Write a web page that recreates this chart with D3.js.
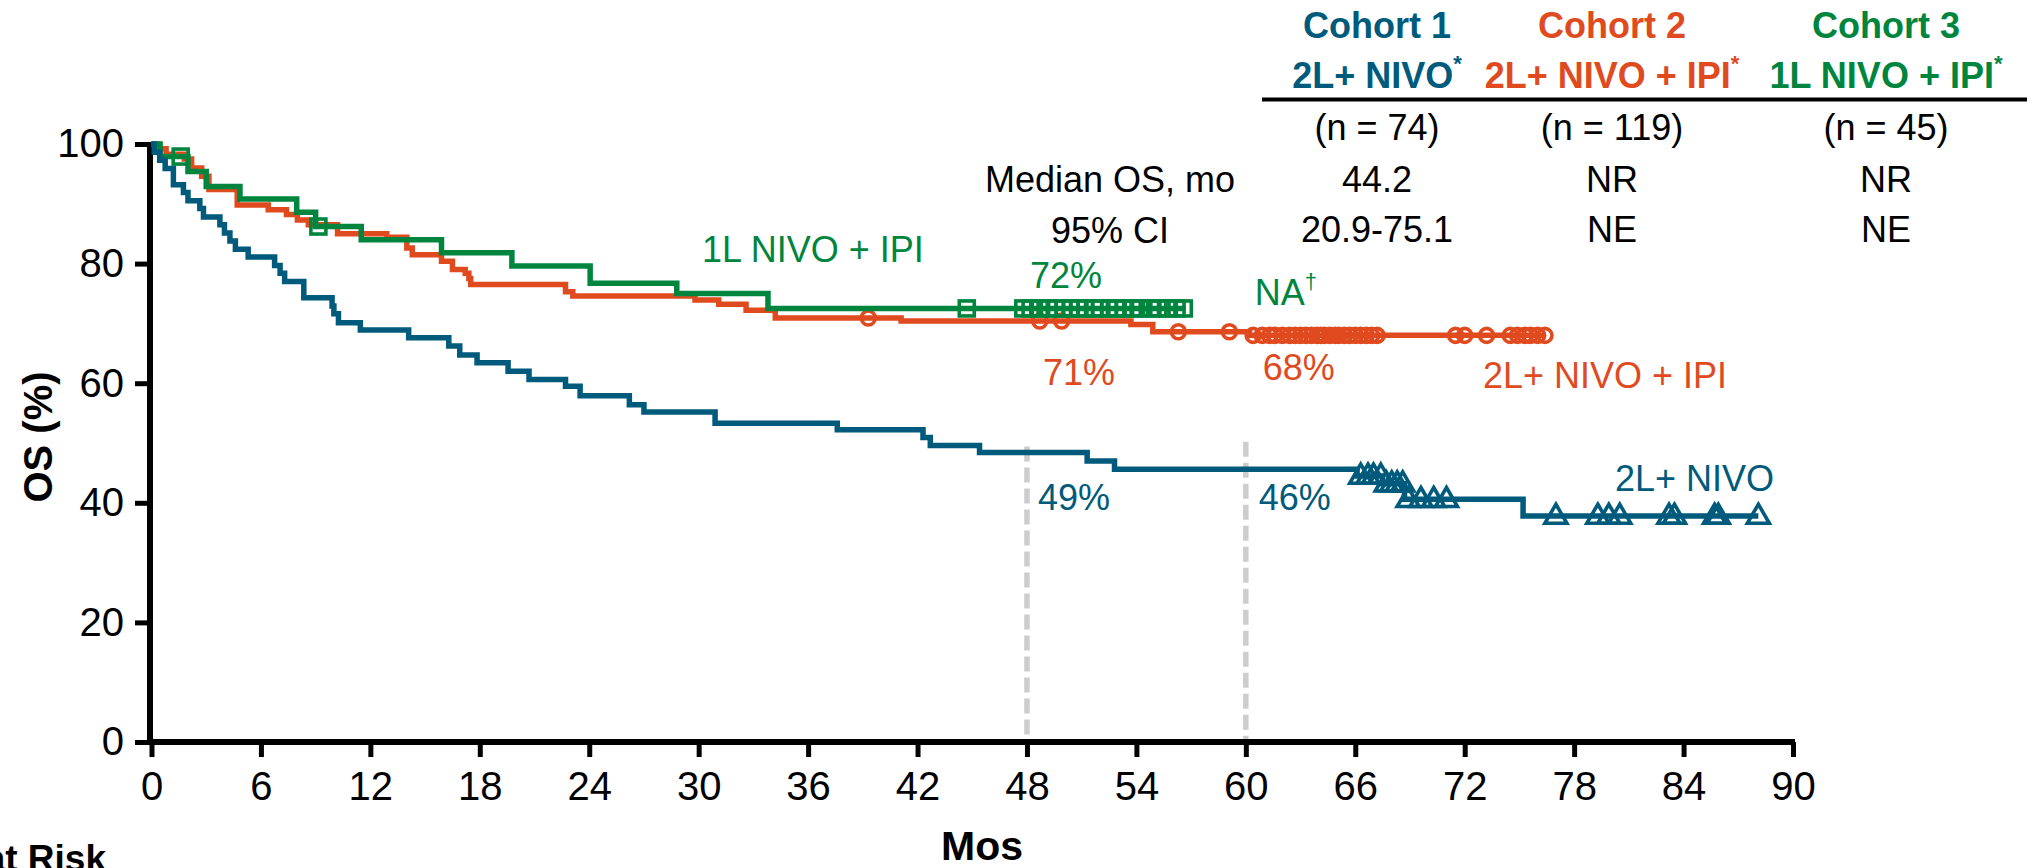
<!DOCTYPE html>
<html>
<head>
<meta charset="utf-8">
<style>
  :root{
    --nivo: #005a7c;
    --combo: #e04a1f;
    --first: #00853e;
  }
  html, body { margin: 0; padding: 0; background: #fff; }
  svg { display: block; font-family: "Liberation Sans", Arial, sans-serif; }
  .axis path, .axis line { stroke: #000; }
  .axis text { fill: #000; font-size: 40px; font-family: "Liberation Sans", Arial, sans-serif; }
</style>
</head>
<body>
<div id="chart"></div>

<script src="https://cdn.jsdelivr.net/npm/d3@7.8.5/dist/d3.min.js"></script>
<script>
// OS Kaplan-Meier curves, three cohorts

const width = 2034;
const height = 868;

// Cohort 1: 2L+ NIVO  (step times in months, OS % after the step)
const nivoTimes = [0, 0.15, 0.45, 0.75, 1.2, 1.75, 2.0, 2.65, 2.85, 3.75, 4.0, 4.3, 4.6, 5.3, 6.75, 7.05, 7.3, 8.35, 9.9, 10.0, 10.25, 11.45, 14.1, 16.3, 16.9, 17.85, 19.55, 20.7, 22.7, 23.5, 26.2, 27.0, 30.9, 37.6, 42.3, 42.7, 45.4, 51.3, 52.8, 66.1, 67.5, 68.7, 75.2];
const nivoOS    = [100, 98.6, 97.3, 95.9, 93.2, 91.9, 90.5, 89.2, 87.8, 86.5, 85.1, 83.8, 82.4, 81.1, 79.7, 78.4, 77.0, 74.3, 72.9, 71.6, 70.1, 68.9, 67.6, 66.2, 64.7, 63.4, 62.0, 60.6, 59.5, 57.9, 56.4, 55.2, 53.3, 52.2, 50.9, 49.6, 48.4, 47.0, 45.6, 44.5, 43.2, 40.6, 37.8];
const nivoEnd = 88.1;
const nivoCensored = [66.3, 66.7, 67.0, 67.4, 67.7, 68.0, 68.3, 68.6, 68.9, 69.6, 70.3, 71.0, 77.0, 79.3, 79.9, 80.5, 83.2, 83.5, 85.7, 85.9, 88.1];

// Cohort 2: 2L+ NIVO + IPI
const comboTimes = [0, 0.3, 0.8, 1.8, 2.2, 2.75, 3.15, 4.7, 6.4, 7.4, 8.0, 8.6, 10.2, 12.9, 14.0, 14.3, 15.9, 16.5, 17.2, 17.4, 17.5, 22.7, 23.1, 29.8, 31.1, 32.6, 34.2, 41.1, 53.7, 54.9, 60.2];
const comboOS    = [100, 99.2, 98.3, 97.5, 96.0, 94.6, 92.4, 89.8, 89.0, 88.2, 87.3, 86.5, 85.0, 84.4, 82.6, 81.5, 80.4, 79.0, 78.4, 77.5, 76.5, 75.3, 74.6, 73.9, 73.2, 72.2, 70.9, 70.4, 69.8, 68.6, 68.0];
const comboEnd = 76.4;
const comboCensored = [39.3, 48.7, 49.9, 56.3, 59.1, 60.4, 60.9, 61.3, 61.6, 62.0, 62.4, 62.7, 63.0, 63.3, 63.6, 63.9, 64.1, 64.3, 64.6, 64.9, 65.1, 65.4, 65.7, 66.0, 66.3, 66.6, 66.9, 67.2, 71.5, 72.0, 73.2, 74.5, 74.9, 75.3, 75.6, 76.0, 76.4];

// Cohort 3: 1L NIVO + IPI
const firstTimes = [0, 0.47, 2.0, 3.0, 4.85, 7.96, 9.0, 11.5, 15.9, 19.76, 24.05, 28.8, 33.8];
const firstOS    = [100, 97.9, 95.4, 92.9, 90.8, 88.6, 86.2, 84.0, 81.8, 79.6, 76.7, 75.0, 72.5];
const firstEnd = 56.7;
const firstCensored = [1.6, 9.15, 44.7, 47.8, 48.2, 48.7, 49.2, 49.6, 50.0, 50.4, 50.8, 51.2, 51.7, 52.0, 52.5, 52.9, 53.3, 53.8, 54.2, 54.8, 55.2, 55.7, 56.2, 56.6];

// landmark lines (months) and where they start (OS %)
const landmarks = [48, 60];
const landmarkTops = [49.4, 50.2];

const xTicks = [0, 6, 12, 18, 24, 30, 36, 42, 48, 54, 60, 66, 72, 78, 84, 90];
const yTicks = [0, 20, 40, 60, 80, 100];

// table at the top right
const cohortNames = ["Cohort 1", "Cohort 2", "Cohort 3"];
const cohortArms = ["2L+ NIVO", "2L+ NIVO + IPI", "1L NIVO + IPI"];
const cohortN = ["(n = 74)", "(n = 119)", "(n = 45)"];
const medianOS = ["44.2", "NR", "NR"];
const medianCI = ["20.9-75.1", "NE", "NE"];
const rowLabels = ["Median OS, mo", "95% CI"];

const colours = ["var(--nivo)", "var(--combo)", "var(--first)"];

(function main(){
    const svg = d3.select("#chart")
        .append("svg")
        .attr("width", width)
        .attr("height", height);

    const xScale = d3.scaleLinear()
        .domain([0, 90])
        .range([151.5, 1793]);

    const yScale = d3.scaleLinear()
        .domain([0, 100])
        .range([742, 144]);

    // landmark dashes
    svg.selectAll(".landmark")
        .data(landmarks)
        .join("line")
        .attr("x1", d => xScale(d))
        .attr("x2", d => xScale(d))
        .attr("y1", (d, i) => yScale(landmarkTops[i]))
        .attr("y2", yScale(0))
        .attr("stroke", "#cdcdcd")
        .attr("stroke-width", 5.5)
        .attr("stroke-dasharray", "15,6");

    // axes
    const yAxis = d3.axisLeft(yScale)
        .tickValues(yTicks)
        .tickSize(15)
        .tickPadding(11)
        .tickSizeOuter(0);

    const xAxis = d3.axisBottom(xScale)
        .tickValues(xTicks)
        .tickSize(15)
        .tickPadding(15)
        .tickSizeOuter(0);

    const gx = svg.append("g")
        .attr("class", "axis")
        .attr("transform", `translate(0, ${yScale(0)})`)
        .call(xAxis);
    gx.select(".domain").attr("stroke-width", 6).attr("d", `M${xScale(0) - 3},0H${xScale(90) + 2}`);
    gx.selectAll(".tick line").attr("stroke-width", 5);

    const gy = svg.append("g")
        .attr("class", "axis")
        .attr("transform", `translate(${xScale(0) - 1.5}, 0)`)
        .call(yAxis);
    gy.select(".domain").attr("stroke-width", 6).attr("d", `M0,${yScale(0)}V${yScale(100) - 2}`);
    gy.selectAll(".tick line").attr("stroke-width", 5);

    // KM curves
    const line = d3.line()
        .x(d => xScale(d[0]))
        .y(d => yScale(d[1]))
        .curve(d3.curveStepAfter);

    const levelAt = (times, os, t) => os[Math.max(0, d3.bisectRight(times, t) - 1)];

    const cohorts = [
        {times: nivoTimes, os: nivoOS, end: nivoEnd, cens: nivoCensored, colour: colours[0], mark: "tri"},
        {times: comboTimes, os: comboOS, end: comboEnd, cens: comboCensored, colour: colours[1], mark: "circle"},
        {times: firstTimes, os: firstOS, end: firstEnd, cens: firstCensored, colour: colours[2], mark: "square"}
    ];

    // draw orange, green, then blue on top
    [1, 2, 0].forEach(k => {
        const c = cohorts[k];
        const pts = d3.zip(c.times, c.os);
        pts.push([c.end, c.os[c.os.length - 1]]);

        svg.append("path")
            .datum(pts)
            .attr("fill", "none")
            .attr("stroke", c.colour)
            .attr("stroke-width", 5.5)
            .attr("d", line);

        const g = svg.append("g")
            .attr("fill", "none")
            .attr("stroke", c.colour)
            .attr("stroke-width", 3.6);

        const marks = c.cens.map(t => [t, levelAt(c.times, c.os, t)]);

        if (c.mark === "circle") {
            g.selectAll("circle").data(marks).join("circle")
                .attr("cx", d => xScale(d[0]))
                .attr("cy", d => yScale(d[1]))
                .attr("r", 7);
        } else if (c.mark === "square") {
            g.selectAll("rect").data(marks).join("rect")
                .attr("x", d => xScale(d[0]) - 7.5)
                .attr("y", d => yScale(d[1]) - 7.5)
                .attr("width", 15)
                .attr("height", 15);
        } else {
            const tri = d3.symbol(d3.symbolTriangle, 210);
            g.selectAll("path").data(marks).join("path")
                .attr("transform", d => `translate(${xScale(d[0])}, ${yScale(d[1]) + 1})`)
                .attr("d", tri);
        }
    });

    // curve annotations
    const note = (txt, x, y, colour) => svg.append("text")
        .attr("x", x).attr("y", y)
        .attr("fill", colour)
        .attr("font-size", 36)
        .text(txt);

    note("1L NIVO + IPI", 702, 262, colours[2]);
    note("72%", xScale(48) + 3, 288, colours[2]);
    note("NA", xScale(60) + 9, 305, colours[2])
        .append("tspan").attr("font-size", 22).attr("dy", -16).text("†");
    note("71%", xScale(48) + 16, 385, colours[1]);
    note("68%", xScale(60) + 17, 380, colours[1]);
    note("2L+ NIVO + IPI", 1483, 388, colours[1]);
    note("49%", xScale(48) + 11, 510, colours[0]);
    note("46%", xScale(60) + 13, 510, colours[0]);
    note("2L+ NIVO", 1615, 491, colours[0]);

    // table
    const colX = [1377, 1612, 1886];
    const table = svg.append("g").attr("text-anchor", "middle").attr("font-size", 36);

    table.selectAll(".head1").data(cohortNames).join("text")
        .attr("x", (d, i) => colX[i]).attr("y", 38)
        .attr("font-weight", "bold")
        .attr("fill", (d, i) => colours[i])
        .text(d => d);

    const head2 = table.selectAll(".head2").data(cohortArms).join("text")
        .attr("x", (d, i) => colX[i]).attr("y", 88)
        .attr("font-weight", "bold")
        .attr("fill", (d, i) => colours[i])
        .text(d => d);
    head2.append("tspan").attr("font-size", 22).attr("dy", -17).text("*");

    table.append("line")
        .attr("x1", 1262).attr("x2", 2027)
        .attr("y1", 99.5).attr("y2", 99.5)
        .attr("stroke", "#000").attr("stroke-width", 4);

    [cohortN, medianOS, medianCI].forEach((row, r) => {
        table.selectAll(".row" + r).data(row).join("text")
            .attr("x", (d, i) => colX[i]).attr("y", [140, 192, 242][r])
            .attr("fill", "#000")
            .text(d => d);
    });

    table.selectAll(".rowlab").data(rowLabels).join("text")
        .attr("x", 1110).attr("y", (d, i) => [192, 243][i])
        .attr("fill", "#000")
        .text(d => d);

    // axis titles
    svg.append("text")
        .attr("x", 982).attr("y", 860)
        .attr("text-anchor", "middle")
        .attr("font-weight", "bold").attr("font-size", 41)
        .text("Mos");

    svg.append("text")
        .attr("transform", "translate(52, 437) rotate(-90)")
        .attr("text-anchor", "middle")
        .attr("font-weight", "bold").attr("font-size", 40)
        .text("OS (%)");

    // row header of the risk table, cut at the left edge as on the slide
    svg.append("text")
        .attr("x", 106).attr("y", 871)
        .attr("text-anchor", "end")
        .attr("font-weight", "bold").attr("font-size", 37)
        .text("No. at Risk");
})();
</script>
</body>
</html>
